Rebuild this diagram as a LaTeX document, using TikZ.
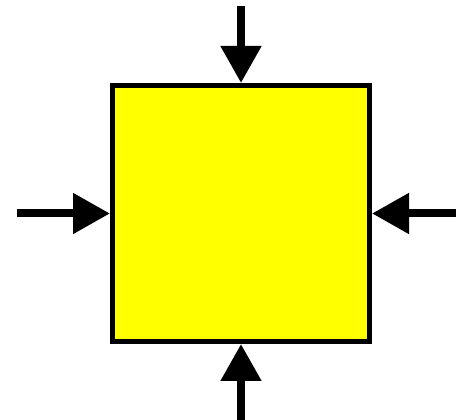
\documentclass[tikz,border=0pt]{standalone}
\usepackage{tikz}
\usetikzlibrary{arrows.meta}
\definecolor{boxyellow}{RGB}{255,255,0}

\begin{document}
\begin{tikzpicture}
[ x=1pt, y=1pt
, block/.style={rectangle, draw=black, fill=boxyellow, line width=5pt, minimum width=257pt, minimum height=256pt, inner sep=0pt}
, push/.style={line width=8pt, -{Triangle[length=37pt, width=39pt]}}
]
\useasboundingbox (0,0) rectangle (456,420);
% the square
\node (box) [block] at (241,206.5) {};
% free ends of the arrows
\coordinate (top) at (241,414);
\coordinate (left) at (17,206.5);
\coordinate (bottom) at (241,0);
\coordinate (right) at (456,206.5);
\draw [push] (top) -- (box.north);
\draw [push] (left) -- (box.west);
\draw [push] (bottom) -- (box.south);
\draw [push] (right) -- (box.east);
\end{tikzpicture}
\end{document}
